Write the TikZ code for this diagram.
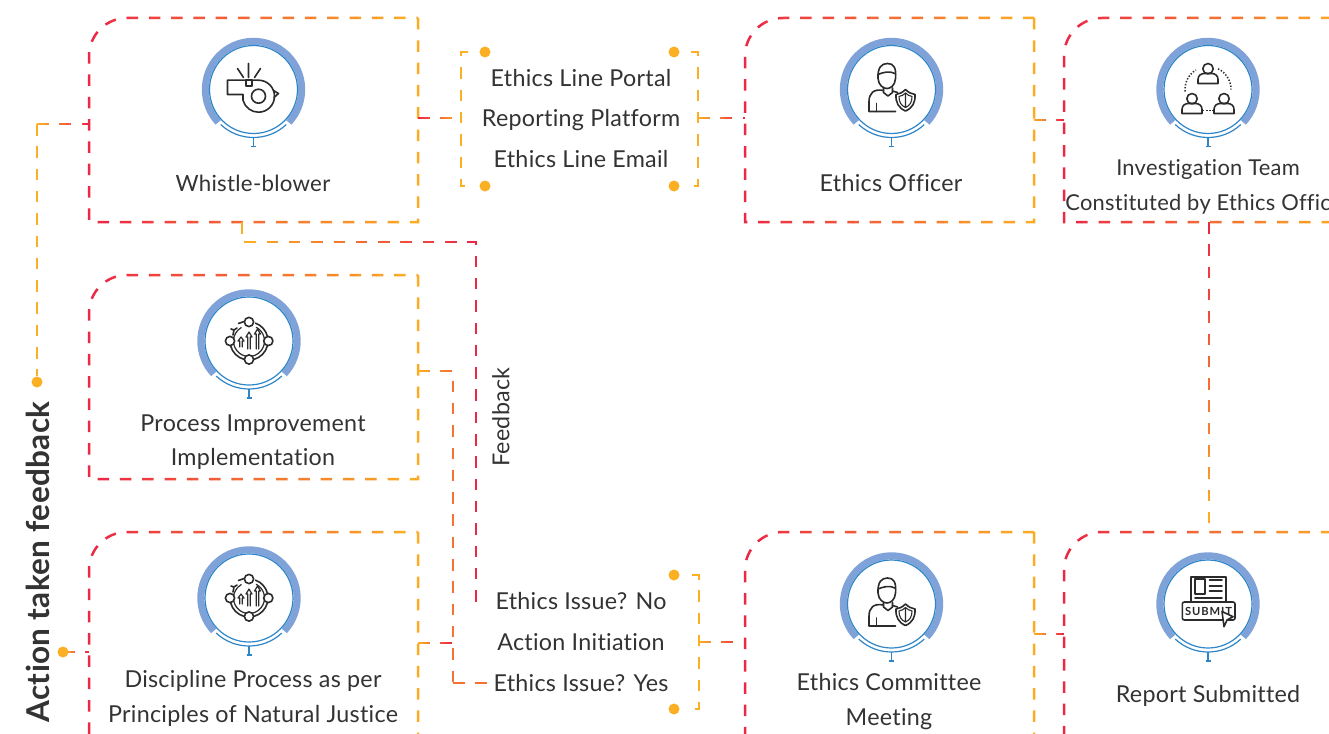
\documentclass[tikz,border=0pt]{standalone}
\usepackage{fontspec}
\setmainfont{Lato}[Ligatures=NoCommon,LetterSpace=1.2]
\definecolor{fred}{HTML}{EC2546}
\definecolor{fyel}{HTML}{FBB023}
\definecolor{ringthick}{HTML}{7FA3D9}
\definecolor{ringthin}{HTML}{2E86C8}
\definecolor{inkc}{HTML}{2B2B2B}
\definecolor{txtc}{HTML}{333333}
\tikzset{
  flow/.style={line width=2.5pt,dash pattern=on 11.5pt off 10.8pt},
  boxn/.style={inner sep=0pt,outer sep=0pt,draw=none},
  lbl/.style={font=\fontsize{23.3}{34.5}\selectfont,text=txtc,align=center,inner sep=0pt},
  dotn/.style={circle,fill=#1,draw=none,minimum size=11pt,inner sep=0pt},
  ico/.style={draw=inkc,line width=1.6pt,line cap=round,line join=round}
}
\newcommand\nsegs{16}
% horizontal gradient on a dashed path: x0 x1 col0 col1 path
\newcommand\gradH[5]{%
  \foreach \i in {1,...,\nsegs}{%
    \pgfmathsetmacro\xa{#1+(\i-1)*(#2-#1)/\nsegs-(\i==1)*4-0.2}%
    \pgfmathsetmacro\xb{#1+\i*(#2-#1)/\nsegs+(\i==\nsegs)*4+0.2}%
    \pgfmathsetmacro\mixv{100*(\i-0.5)/\nsegs}%
    \begin{scope}
      \clip (\xa,-60) rectangle (\xb,800);
      \draw[flow,draw={#4!\mixv!#3}] #5;
    \end{scope}}}
% vertical gradient
\newcommand\gradV[5]{%
  \foreach \i in {1,...,\nsegs}{%
    \pgfmathsetmacro\ya{#1+(\i-1)*(#2-#1)/\nsegs-(\i==1)*4-0.2}%
    \pgfmathsetmacro\yb{#1+\i*(#2-#1)/\nsegs+(\i==\nsegs)*4+0.2}%
    \pgfmathsetmacro\mixv{100*(\i-0.5)/\nsegs}%
    \begin{scope}
      \clip (-60,\ya) rectangle (1500,\yb);
      \draw[flow,draw={#4!\mixv!#3}] #5;
    \end{scope}}}
% name xleft xright ytop ybottom
\newcommand\flowbox[5]{%
  \node[boxn,minimum width={(#3-#2)*1pt},minimum height={(#5-#4)*1pt}] (#1) at ({(#2+#3)/2},{(#4+#5)/2}) {};
  \gradH{#2}{#3}{fred}{fyel}{(#1.north east) -- (#1.south east) -- (#1.south west) -- ([yshift=-38pt]#1.north west) .. controls ([yshift=-17pt]#1.north west) and ([xshift=17pt]#1.north west) .. ([xshift=38pt]#1.north west) -- cycle}}
% name cx cy
\newcommand\iconring[3]{%
  \coordinate (#1) at (#2,#3);
  \begin{scope}[shift={(#1)},y=1pt]
    \draw[ringthick,line width=7pt] (-43:48.2pt) arc[start angle=-43,end angle=223,radius=48.2pt];
    \draw[ringthin,line width=1.2pt] (0,0) circle[radius=44pt];
    \draw[ringthin,line width=1.2pt] (-47:48pt) arc[start angle=-47,end angle=-133,radius=48pt];
    \draw[ringthin,line width=1.2pt] (0,-48) -- (0,-57) (-2.5,-57) -- (2.5,-57);
  \end{scope}}
\newcommand\tperson[2]{%
  \draw[ico] (#1,#2+5.8) circle[radius=5.2pt];
  \draw[ico] (#1-10,#2-9) -- (#1-10,#2-5) .. controls (#1-10,#2-1) and (#1-7,#2+1) .. (#1-3.5,#2+1) -- (#1+3.5,#2+1) .. controls (#1+7,#2+1) and (#1+10,#2-1) .. (#1+10,#2-5) -- (#1+10,#2-9) -- cycle;}
\newcommand\icoperson{%
  \draw[ico] (-13.5,11) .. controls (-14,22) and (-10,26) .. (-4,26) .. controls (2,26) and (5,22) .. (4,11) .. controls (3.5,4) and (-1,1) .. (-4.5,1) .. controls (-8,1) and (-13,4) .. (-13.5,11) -- cycle;
  \draw[ico] (-13.5,15) .. controls (-9,17) and (-2,19) .. (3.5,16);
  \draw[ico] (-8,1.5) -- (-8,-3) -- (-3.5,-6.5) -- (1,-3) -- (1,1.5);
  \draw[ico] (-8,-1) .. controls (-18,1) and (-22.5,-4) .. (-22.5,-12) -- (-22.5,-22) -- (4,-22);
  \draw[ico] (1,-1.5) -- (6,-3);
  \draw[ico] (-15,-22) -- (-15,-14);
  \draw[ico] (14,0) .. controls (11,-3) and (8,-4.5) .. (4.5,-5) .. controls (4,-13) and (7,-18.5) .. (14,-21.5) .. controls (21,-18.5) and (24,-13) .. (23.5,-5) .. controls (20,-4.5) and (17,-3) .. (14,0) -- cycle;
  \draw[ico,line width=1.1pt] (14,-3.5) .. controls (12,-5.5) and (10,-6.5) .. (7.5,-7) .. controls (7.5,-12.5) and (9.5,-16) .. (14,-18) -- cycle;
  \draw[ico,line width=1.1pt] (14,-3.5) .. controls (16,-5.5) and (18,-6.5) .. (20.5,-7) .. controls (20.5,-12.5) and (18.5,-16) .. (14,-18);}
\newcommand\icoprocess{%
  \draw[ico,line width=1.2pt] (62:15.5pt) arc[start angle=62,end angle=-240,radius=15.5pt];
  \draw[ico] (70:19pt) arc[start angle=70,end angle=15,radius=19pt];
  \draw[ico] (-15:19pt) arc[start angle=-15,end angle=-75,radius=19pt];
  \draw[ico] (-105:19pt) arc[start angle=-105,end angle=-165,radius=19pt];
  \foreach \p in {(0,19),(-19,0),(19.3,0),(0,-18.5)}{\draw[ico,fill=white] \p circle[radius=4.6pt];}
  \draw[ico,line width=1.2pt] (-9.3,-6) -- (-9.3,0) -- (-11,0) -- (-8,4) -- (-5,0) -- (-6.7,0) -- (-6.7,-6);
  \draw[ico,line width=1.2pt] (-1.3,-8) -- (-1.3,4) -- (-3,4) -- (0,9) -- (3,4) -- (1.3,4) -- (1.3,-8);
  \draw[ico,line width=1.2pt] (7.2,-8) -- (7.2,7) -- (5.5,7) -- (8.5,12) -- (11.5,7) -- (9.8,7) -- (9.8,-8);
  \draw[ico] (-16,6) -- (-15,11) -- (-18,12) (-15,11) -- (-12,13);
  \draw[ico] (-10.5,17.5) -- (-5,19.5);}
\newcommand\icoteam{%
  \tperson{0}{15}
  \tperson{-16}{-15}
  \tperson{16}{-15}
  \draw[inkc,line width=1.5pt,dash pattern=on 1.4pt off 1.7pt] (185:23pt) arc[start angle=185,end angle=122,radius=23pt];
  \draw[inkc,line width=1.5pt,dash pattern=on 1.4pt off 1.7pt] (64:23pt) arc[start angle=64,end angle=0,radius=23pt];
  \draw[inkc,line width=1.5pt,dash pattern=on 1.4pt off 1.7pt] (-5,-21) -- (6,-21);}
\newcommand\icosubmit{%
  \draw[ico] (-17,2) -- (-17,27.3) -- (18,27.3) -- (18,2);
  \draw[ico] (-13,25) rectangle (-3,10);
  \draw[ico] (1.5,24) -- (14,24) (1.5,18) -- (14,18) (1.5,13) -- (14,13) (-13,6) -- (14,6);
  \draw[ico,rounded corners=2pt] (-25.7,2) rectangle (27,-16);
  \node[font=\bfseries\fontsize{11.2}{12}\selectfont\addfontfeatures{LetterSpace=8},text=inkc,inner sep=0pt] (subtxt) at (0.5,-7) {SUBMIT};
  \draw[ico,fill=white] (14,-7.5) -- (25,-12.7) -- (19,-16) -- (16,-22.7) -- cycle;}
\newcommand\icowhistle{%
  \draw[ico] (-26,9.3) -- (5,9.3) arc[start angle=90,end angle=-165,radius=16pt] -- (-10.5,-5) -- (-26,-5) -- cycle;
  \draw[ico] (5,-6.7) circle[radius=7pt];
  \draw[ico] (-7.7,9.3) rectangle (-1.7,3.3);
  \draw[ico] (-5,26) -- (-5,12) (-16,21) -- (-10,12) (7,21) -- (1,12);
  \draw[ico] (20,-1) -- (25,-4) -- (20.5,-8);}
\begin{document}
\begin{tikzpicture}[x=1pt,y=-1pt]
\useasboundingbox (0,0) rectangle (1329,733);
\clip (0,0) rectangle (1329,733);
\fill[white] (0,0) rectangle (1329,733);

% connector end points
\coordinate (brAl) at (461,118);
\coordinate (brAr) at (698,118);
\coordinate (brBr) at (699,642);
\coordinate (o1) at (418,118);
\coordinate (o2) at (745,118);
\coordinate (o3) at (1034,120);
\coordinate (o4) at (1064,120);
\coordinate (o5) at (1034,634);
\coordinate (o6) at (1064,634);
\coordinate (o7) at (745,642);
\coordinate (o8) at (1209,222);
\coordinate (o9) at (1209,532);
\coordinate (fa) at (242,222);
\coordinate (fb) at (242,242);
\coordinate (fc) at (476,242);
\coordinate (fd) at (476,601);
\coordinate (fe) at (492,601);
\coordinate (pa) at (418,371);
\coordinate (pb) at (453,371);
\coordinate (pc) at (453,683);
\coordinate (pd) at (490,683);
\coordinate (da) at (418,643);
\coordinate (db) at (453,643);
\coordinate (aa) at (89,124);
\coordinate (ab) at (37,124);
\coordinate (ac) at (37,376);
\coordinate (ad) at (63,652);
\coordinate (ae) at (89,652);

% boxes
\flowbox{whistle}{89}{418}{18}{222}
\flowbox{officer}{745}{1034}{18}{222}
\flowbox{team}{1064}{1352}{18}{222}
\flowbox{process}{89}{418}{275}{479}
\flowbox{discipline}{89}{418}{532}{736}
\flowbox{committee}{745}{1034}{532}{736}
\flowbox{report}{1064}{1352}{532}{736}

% brackets
\draw[flow,fyel] (468,52) -- (461,52) -- (461,186) -- (468,186);
\draw[flow,fyel] (691,52) -- (698,52) -- (698,186) -- (691,186);
\draw[flow,fyel] (692,575) -- (699,575) -- (699,709) -- (692,709);

% connectors
\gradH{418}{461}{fred}{fyel}{(o1) -- (brAl)}
\gradH{698}{745}{fyel}{fred}{(brAr) -- (o2)}
\gradH{1034}{1064}{fyel}{fred}{(o3) -- (o4)}
\gradH{1034}{1064}{fyel}{fred}{(o5) -- (o6)}
\gradH{699}{745}{fyel}{fred}{(brBr) -- (o7)}
\gradV{222}{532}{fred}{fyel}{(o8) -- (o9)}
\gradH{242}{476}{fyel}{fred}{(fa) -- (fb) -- (fc) -- (fd) -- (fe)}
\gradH{418}{453}{fyel}{fred!45!fyel}{(pa) -- (pb) -- (pc)}
\gradH{453}{490}{fred!45!fyel}{fred}{(pc) -- (pd)}
\gradH{418}{453}{fyel}{fred}{(da) -- (db)}
\gradH{37}{89}{fyel}{fred}{(ab) -- (aa)}
\draw[flow,fyel] (ab) -- (ac);
\gradH{63}{89}{fyel}{fred}{(ad) -- (ae)}

% dots
\node[dotn=fyel] (d1) at (485,52) {};
\node[dotn=fyel] (d2) at (674,52) {};
\node[dotn=fyel] (d3) at (485,186) {};
\node[dotn=fyel] (d4) at (674,186) {};
\node[dotn=fyel] (d5) at (674,575) {};
\node[dotn=fyel] (d6) at (674,709) {};
\node[dotn=fyel] (d7) at (37,382) {};
\node[dotn=fyel] (d8) at (63,652) {};

% icons
\iconring{i1}{253.5}{89.5}
\begin{scope}[shift={(i1)},y=1pt]\icowhistle\end{scope}
\iconring{i2}{891.5}{89.5}
\begin{scope}[shift={(i2)},y=1pt]\icoperson\end{scope}
\iconring{i3}{1208}{89.5}
\begin{scope}[shift={(i3)},y=1pt]\icoteam\end{scope}
\iconring{i4}{249}{341}
\begin{scope}[shift={(i4)},y=1pt]\icoprocess\end{scope}
\iconring{i5}{249}{598}
\begin{scope}[shift={(i5)},y=1pt]\icoprocess\end{scope}
\iconring{i6}{891.5}{604}
\begin{scope}[shift={(i6)},y=1pt]\icoperson\end{scope}
\iconring{i7}{1208}{604}
\begin{scope}[shift={(i7)},y=1pt]\icosubmit\end{scope}

% labels
\node[lbl,font=\fontsize{22.3}{34.5}\selectfont] (t1) at (253,183) {Whistle-blower};
\node[lbl] (t2) at (581,118.5) {Ethics Line Portal\\[6pt]Reporting Platform\\[6pt]Ethics Line Email};
\node[lbl] (t3) at (891,183) {Ethics Officer};
\node[lbl,font=\fontsize{21.9}{34.5}\selectfont] (t4) at (1208,187) {Investigation Team\\Constituted by Ethics Officer};
\node[lbl] (t5) at (253,442) {Process Improvement\\Implementation};
\node[lbl] (t6) at (253,698.5) {Discipline Process as per\\Principles of Natural Justice};
\node[lbl] (t7) at (581,642) {Ethics Issue? No\\[6.5pt]Action Initiation\\[6.5pt]Ethics Issue? Yes};
\node[lbl] (t8) at (889,701.5) {Ethics Committee\\Meeting};
\node[lbl] (t9) at (1208,696) {Report Submitted};
\node[lbl,rotate=90] (t10) at (501,417) {Feedback};
\node[lbl,rotate=90,font=\bfseries\fontsize{31.5}{36}\selectfont] (t11) at (38,562) {Action taken feedback};
\end{tikzpicture}
\end{document}
